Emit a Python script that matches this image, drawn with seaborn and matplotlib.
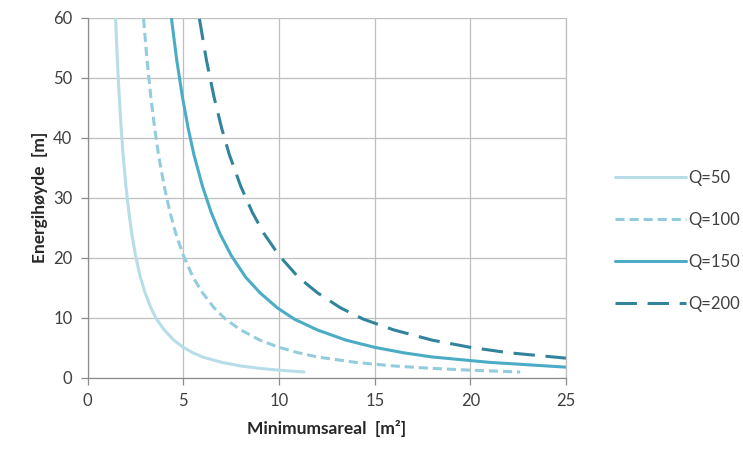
import matplotlib
matplotlib.use("Agg")
import matplotlib.pyplot as plt
import seaborn as sns
import pandas as pd

# Minimumsareal (m2) og energihøyde (m) lest av figuren
h_common = [59.8, 53.0, 46.8, 41.6, 37.2, 31.9, 27.6, 24.1, 20.4, 16.8, 14.2, 11.7,
            9.8, 8.0, 6.3, 5.1, 4.2, 3.5, 2.6, 2.0, 1.6, 1.3, 1.0]

a_50 = [1.46, 1.55, 1.65, 1.75, 1.85, 2.0, 2.15, 2.3, 2.5, 2.75, 3.0, 3.3,
        3.6, 4.0, 4.5, 5.0, 5.5, 6.0, 7.0, 8.0, 9.0, 10.0, 11.3]
h_50 = h_common

a_100 = [2.92, 3.1, 3.3, 3.5, 3.7, 4.0, 4.3, 4.6, 5.0, 5.5, 6.0, 6.6,
         7.2, 8.0, 9.0, 10.0, 11.0, 12.0, 14.0, 16.0, 18.0, 20.0, 22.6]
h_100 = h_common

a_150 = [4.38, 4.65, 4.95, 5.25, 5.55, 6.0, 6.45, 6.9, 7.5, 8.25, 9.0, 9.9,
         10.8, 12.0, 13.5, 15.0, 16.5, 18.0, 21.0, 23.0, 25.0]
h_150 = [59.8, 53.0, 46.8, 41.6, 37.2, 31.9, 27.6, 24.1, 20.4, 16.8, 14.2, 11.7,
         9.8, 8.0, 6.3, 5.1, 4.2, 3.5, 2.6, 2.2, 1.8]

a_200 = [5.84, 6.2, 6.6, 7.0, 7.4, 8.0, 8.6, 9.2, 10.0, 11.0, 12.0, 13.2,
         14.4, 16.0, 18.0, 20.0, 22.0, 25.0]
h_200 = [59.8, 53.0, 46.8, 41.6, 37.2, 31.9, 27.6, 24.1, 20.4, 16.8, 14.2, 11.7,
         9.8, 8.0, 6.3, 5.1, 4.2, 3.3]

labels = ["Q=50", "Q=100", "Q=150", "Q=200"]

rows = []
for lab, xs, ys in zip(labels, [a_50, a_100, a_150, a_200], [h_50, h_100, h_150, h_200]):
    for x, y in zip(xs, ys):
        rows.append({"areal": x, "hoyde": y, "Q": lab})
df = pd.DataFrame(rows)

sns.set_theme(style="whitegrid")
plt.rcParams["font.family"] = ["Lato", "DejaVu Sans"]

colors = {"Q=50": "#b7dde8", "Q=100": "#93cddd", "Q=150": "#4bacc6", "Q=200": "#31849b"}
dashes = {"Q=50": "", "Q=100": (3, 1.6), "Q=150": "", "Q=200": (7, 3.5)}

fig = plt.figure(figsize=(7.43, 4.59), dpi=100)
ax = fig.add_axes([0.118, 0.1765, 0.644, 0.785])

sns.lineplot(data=df, x="areal", y="hoyde", hue="Q", style="Q",
             palette=colors, dashes=dashes, linewidth=2.2, sort=False,
             estimator=None, ax=ax)

ax.set_xlim(0, 25)
ax.set_ylim(0, 60)
ax.set_xticks(range(0, 26, 5))
ax.set_yticks(range(0, 61, 10))
ax.grid(True, color="#bfbfbf", linewidth=0.9)
ax.spines["top"].set_visible(False)
ax.spines["right"].set_visible(True)
ax.spines["right"].set_color("#bfbfbf")
ax.spines["right"].set_linewidth(0.9)
for s in ["left", "bottom"]:
    ax.spines[s].set_visible(True)
    ax.spines[s].set_color("#8c8c8c")
    ax.spines[s].set_linewidth(0.9)
ax.tick_params(axis="both", length=5, color="#8c8c8c", width=0.9,
               labelsize=12, labelcolor="#404040", pad=6)
ax.tick_params(axis="x", direction="out", bottom=True)
ax.tick_params(axis="y", direction="out", left=True)

ax.set_xlabel("Minimumsareal  [m²]", fontsize=12.5, fontweight="bold", labelpad=8)
ax.set_ylabel("Energihøyde  [m]", fontsize=12.5, fontweight="bold", labelpad=4)

leg = ax.legend(loc="center left", bbox_to_anchor=(1.07, 0.38), frameon=False,
                fontsize=12, handlelength=4.3, handletextpad=0.1, labelspacing=1.55)
for t in leg.get_texts():
    t.set_color("#404040")
for line in leg.get_lines():
    line.set_linewidth(2.2)

fig.savefig("out.png", dpi=100)
